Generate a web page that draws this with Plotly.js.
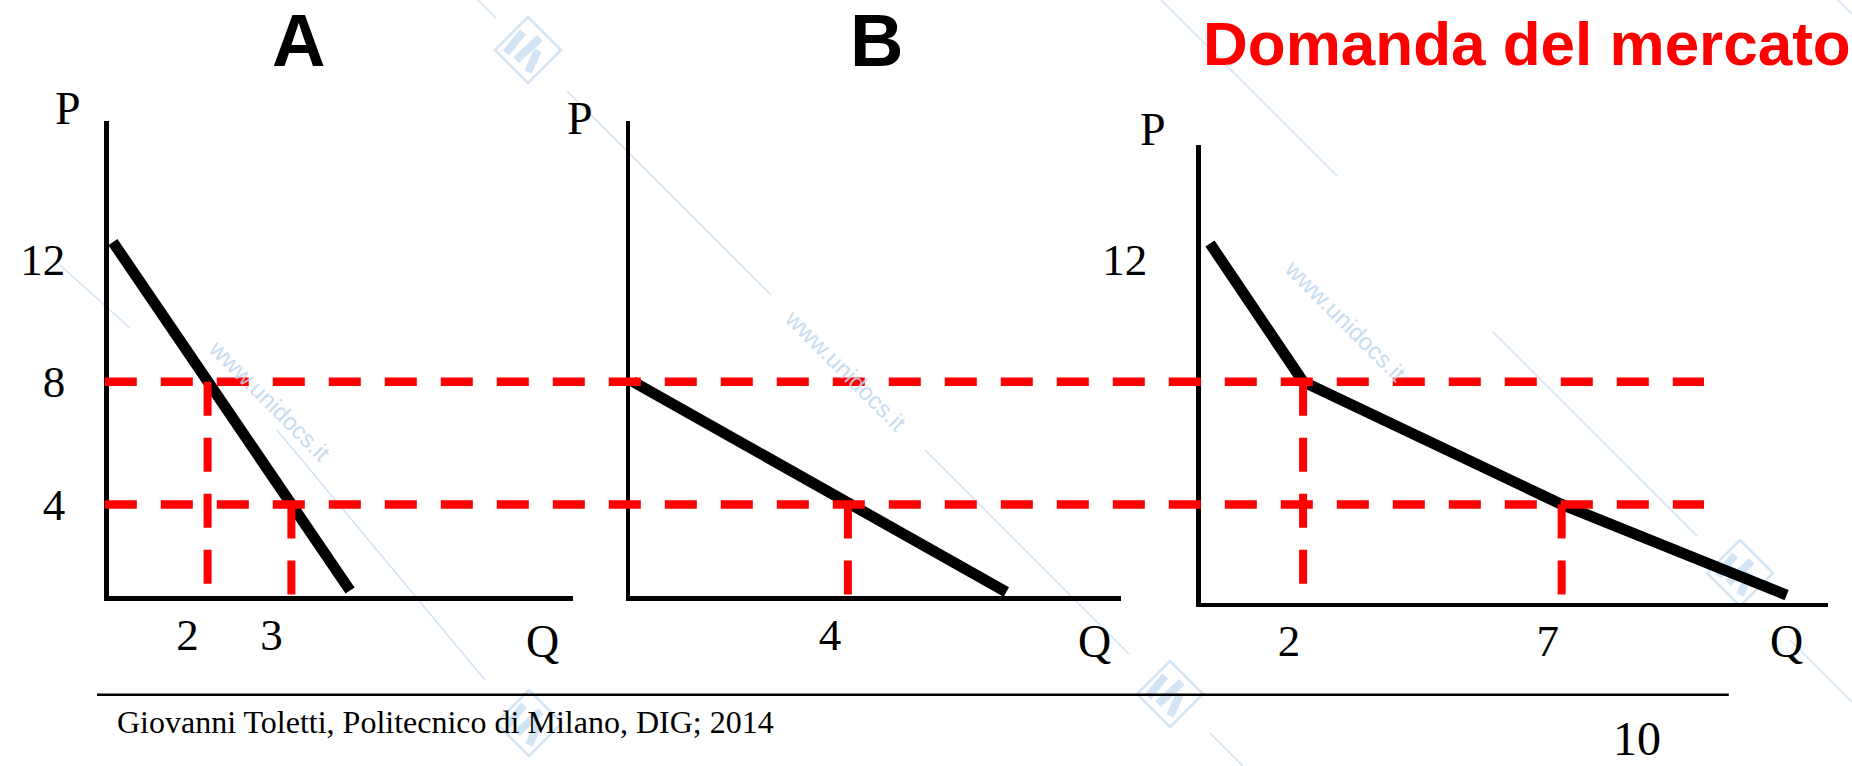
<!DOCTYPE html>
<html>
<head>
<meta charset="utf-8">
<script src="https://cdn.plot.ly/plotly-3.0.1.min.js"></script>
<style>html,body{margin:0;padding:0;background:#fff;}#chart{width:1852px;height:766px;}</style>
</head>
<body>
<div id="chart"></div>
<script>
// ---- data ----
const panelTitles = ["A", "B", "Domanda del mercato"];
const qA = [0.87, 2, 3, 3.7];
const pA = [12.55, 8, 4, 1.2];
const qB = [0, 4, 6.95];
const pB = [8, 4, 1.15];
const qM = [0.2, 2, 7, 11.35];
const pM = [12.5, 8, 4, 1.05];
const refPrices = [8, 4];
const pTicksA = [12, 8, 4];
const qTicksA = [2, 3];
const qTicksB = [4];
const pTicksM = [12];
const qTicksM = [2, 7];
const footerText = "Giovanni Toletti, Politecnico di Milano, DIG; 2014";
const pageNumber = "10";
const watermark = "www.unidocs.it";

// ---- layout helpers ----
const W = 1852, H = 766;
const px = v => v / W;
const py = v => 1 - v / H;
const SERIF = "Liberation Serif, Times New Roman, serif";
const SANS = "Liberation Sans, Arial, sans-serif";

const ranges = {
  x:  [0.82, 6.364],  y:  [1.02, 16.51],
  x2: [-0.05, 9.08],  y2: [1.02, 16.51],
  x3: [0.02, 12.15],  y3: [0.80, 15.71]
};

function axisBase(extra) {
  return Object.assign({
    showline: true, linecolor: "black", linewidth: 4.5,
    showgrid: false, zeroline: false, ticks: "",
    tickfont: {family: SERIF, size: 45, color: "black"},
    fixedrange: true
  }, extra);
}

const layout = {
  width: W, height: H,
  margin: {l: 0, r: 0, t: 0, b: 0, pad: 0},
  paper_bgcolor: "white", plot_bgcolor: "rgba(0,0,0,0)",
  showlegend: false,
  xaxis: axisBase({domain: [px(108.7), px(573.3)], range: ranges.x, anchor: "y",
    tickvals: qTicksA, ticktext: qTicksA.map(String), ticklabelshift: -20, ticklabelstandoff: -5}),
  yaxis: axisBase({domain: [py(596), py(120.5)], range: ranges.y, anchor: "x",
    tickvals: pTicksA, ticktext: pTicksA.map(String), ticklabelstandoff: 30}),
  xaxis2: axisBase({domain: [px(630.4), px(1120.7)], range: ranges.x2, anchor: "y2",
    tickvals: qTicksB, ticktext: qTicksB.map(String), ticklabelshift: -18, ticklabelstandoff: -5}),
  yaxis2: axisBase({domain: [py(596), py(120.5)], range: ranges.y2, anchor: "x2", showticklabels: false}),
  xaxis3: axisBase({domain: [px(1200.7), px(1828)], range: ranges.x3, anchor: "y3",
    tickvals: qTicksM, ticktext: qTicksM.map(String), ticklabelshift: -14, ticklabelstandoff: -5}),
  yaxis3: axisBase({domain: [py(602.7), py(145)], range: ranges.y3, anchor: "x3",
    tickvals: pTicksM, ticktext: pTicksM.map(String), ticklabelstandoff: 40}),
  shapes: [],
  annotations: []
};

// demand curves
const series = [
  {q: qA, p: pA, xa: "x",  ya: "y",  ymin: ranges.y[0]},
  {q: qB, p: pB, xa: "x2", ya: "y2", ymin: ranges.y2[0]},
  {q: qM, p: pM, xa: "x3", ya: "y3", ymin: ranges.y3[0]}
];
const traces = series.map(s => ({
  type: "scatter", mode: "lines", x: s.q, y: s.p, xaxis: s.xa, yaxis: s.ya,
  line: {color: "black", width: 11}, hoverinfo: "skip"
}));

// ---- faint watermark (behind everything) ----
const WM = "rgba(190,214,238,0.7)";
const wmLines = [[567,91,771,295],[925,450,1129,654],[1161,0,1337,176],[1493,332,1697,536],
  [277,430,485,680],[60,265,130,328],[1790,640,1852,702],[1210,733,1243,766],[478,0,496,18],[1838,0,1852,14]];
wmLines.forEach(l => layout.shapes.push({type: "line", xref: "paper", yref: "paper", layer: "below",
  x0: px(l[0]), y0: py(l[1]), x1: px(l[2]), y1: py(l[3]), line: {color: WM, width: 1.5}}));
[[201,400],[846,370],[1414,252]].forEach(c => layout.annotations.push({
  xref: "paper", yref: "paper", x: px(c[0]), y: py(c[1]), text: watermark, showarrow: false,
  textangle: 45, font: {family: SANS, size: 24, color: "rgba(190,214,238,0.85)"}}));
function P(x, y) { return px(x) + "," + py(y); }
[[528,50],[1740,573],[1170,694],[529,723]].forEach(c => {
  const [cx, cy] = c, r = 33;
  layout.shapes.push({type: "path", xref: "paper", yref: "paper", layer: "below",
    path: "M" + P(cx, cy - r) + " L" + P(cx + r, cy) + " L" + P(cx, cy + r) + " L" + P(cx - r, cy) + " Z",
    line: {color: "rgba(200,222,242,0.8)", width: 2.5}});
  [[-5,-18,-22,3],[12,-12,-12,10],[10,0,0,22]].forEach(s => layout.shapes.push({
    type: "line", xref: "paper", yref: "paper", layer: "below",
    x0: px(cx + s[0]), y0: py(cy + s[1]), x1: px(cx + s[2]), y1: py(cy + s[3]),
    line: {color: "rgba(200,222,242,0.8)", width: 8}}));
});

// horizontal reference price lines spanning the three panels
refPrices.forEach(p => layout.shapes.push({
  type: "line", xref: "paper", yref: "y", x0: px(104.8), x1: px(1704), y0: p, y1: p,
  line: {color: "#ff0000", width: 8.5, dash: "32px,24px"}
}));
// vertical drop lines where each curve meets a reference price
series.forEach(s => {
  refPrices.forEach(rp => {
    const i = s.p.indexOf(rp);
    if (i >= 0 && s.q[i] > 0.5) {
      layout.shapes.push({type: "line", xref: s.xa, yref: s.ya,
        x0: s.q[i], x1: s.q[i], y0: rp, y1: s.ymin,
        line: {color: "#ff0000", width: 8, dash: "34px,22px"}});
    }
  });
});

// footer rule
layout.shapes.push({type: "line", xref: "paper", yref: "paper", x0: px(97), x1: px(1728.8),
  y0: py(694.7), y1: py(694.7), line: {color: "black", width: 2.5}});

function txt(x, y, text, size, opts) {
  layout.annotations.push(Object.assign({xref: "paper", yref: "paper", x: px(x), y: py(y),
    text: text, showarrow: false, xanchor: "center", yanchor: "middle",
    font: {family: SERIF, size: size, color: "black"}}, opts || {}));
}
// panel titles
txt(298.5, 40, panelTitles[0], 74, {font: {family: SANS, size: 74, color: "black", weight: "bold"}});
txt(876.3, 40, panelTitles[1], 74, {font: {family: SANS, size: 74, color: "black", weight: "bold"}});
txt(1527, 44, panelTitles[2], 62, {font: {family: SANS, size: 62, color: "#ff0000", weight: "bold"}});
// axis names
txt(68, 109, "P", 46); txt(579.8, 118, "P", 46); txt(1152.8, 129.5, "P", 46);
txt(542.5, 641, "Q", 46); txt(1094.6, 641, "Q", 46); txt(1786.8, 641, "Q", 46);
// footer
txt(115, 722, footerText, 32, {xanchor: "left"});
txt(1636.7, 738, pageNumber, 48);

Plotly.newPlot("chart", traces, layout, {staticPlot: true, displayModeBar: false});
</script>
</body>
</html>
